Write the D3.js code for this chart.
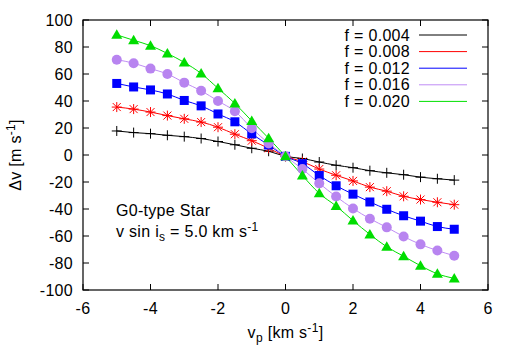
<!DOCTYPE html>
<html>
<head>
<meta charset="utf-8">
<script src="https://cdn.jsdelivr.net/npm/d3@7"></script>
<style>
  body { margin: 0; background: #fff; }
  text { font-family: "Liberation Sans", Arial, sans-serif; font-size: 16px; fill: #000; letter-spacing: 0.3px; }
</style>
</head>
<body>
<div id="chart"></div>
<script>
// x positions of the computed points
const vp = [-5, -4.5, -4, -3.5, -3, -2.5, -2, -1.5, -1, -0.5, 0, 0.5, 1, 1.5, 2, 2.5, 3, 3.5, 4, 4.5, 5];

const f004 = [17.8, 16.6, 15.8, 14.6, 13.6, 12.2, 10.0, 7.6, 5.0, 2.8, -1, -2.6, -5.2, -7.6, -9.4, -11.6, -13.2, -14.6, -16.4, -17.6, -18.6];
const f008 = [35.5, 34.0, 31.8, 29.2, 26.8, 24.4, 20.6, 15.4, 10.6, 5.0, -1, -4.9, -10.4, -15.0, -19.2, -23.8, -26.8, -30.6, -33.0, -35.0, -36.8];
const f012 = [53.0, 50.4, 48.2, 45.2, 40.4, 36.4, 30.4, 24.6, 15.6, 7.4, -1, -6.4, -15.2, -22.8, -29.0, -34.8, -40.2, -45.0, -49.0, -53.0, -55.0];
const f016 = [70.6, 68.0, 64.0, 60.0, 53.6, 47.6, 40.0, 32.4, 19.8, 8.6, -1, -10.4, -21.0, -30.8, -39.6, -47.2, -53.6, -60.4, -66.2, -70.8, -74.6];
const f020 = [89.0, 85.0, 81.0, 75.2, 68.6, 60.4, 49.4, 38.2, 25.2, 12.4, -1, -15.2, -28.4, -37.8, -48.6, -58.8, -68.0, -75.0, -82.0, -88.0, -91.4];

const seriesNames = ["f = 0.004", "f = 0.008", "f = 0.012", "f = 0.016", "f = 0.020"];
const seriesValues = [f004, f008, f012, f016, f020];
const lineColors = ["#000000", "#ff0000", "#0000ff", "#bf8cf5", "#00e000"];
const markColors = ["#000000", "#ff0000", "#0000ff", "#b884f0", "#00dd00"];
const markShapes = ["plus", "star", "square", "circle", "triangle"];

const xTicks = [-6, -4, -2, 0, 2, 4, 6];
const yTicks = [-100, -80, -60, -40, -20, 0, 20, 40, 60, 80, 100];

const W = 518, H = 362;
const margin = {top: 20, right: 30, bottom: 72, left: 83};

const svg = d3.select("#chart").append("svg")
    .attr("width", W).attr("height", H);

const x = d3.scaleLinear().domain([-6, 6]).range([margin.left, W - margin.right]);
const y = d3.scaleLinear().domain([-100, 100]).range([H - margin.bottom, margin.top]);

const tick = 6;

// Frame
svg.append("rect")
    .attr("x", x(-6)).attr("y", y(100))
    .attr("width", x(6) - x(-6)).attr("height", y(-100) - y(100))
    .attr("fill", "none").attr("stroke", "#000").attr("stroke-width", 1.2);

// Inward ticks on all four sides
const ticksG = svg.append("g").attr("stroke", "#000").attr("stroke-width", 1);
xTicks.forEach(t => {
    ticksG.append("line").attr("x1", x(t)).attr("x2", x(t)).attr("y1", y(-100)).attr("y2", y(-100) - tick);
    ticksG.append("line").attr("x1", x(t)).attr("x2", x(t)).attr("y1", y(100)).attr("y2", y(100) + tick);
});
yTicks.forEach(t => {
    ticksG.append("line").attr("x1", x(-6)).attr("x2", x(-6) + tick).attr("y1", y(t)).attr("y2", y(t));
    ticksG.append("line").attr("x1", x(6)).attr("x2", x(6) - tick).attr("y1", y(t)).attr("y2", y(t));
});

// Tick labels
svg.selectAll(".xlab").data(xTicks).join("text")
    .attr("x", d => x(d)).attr("y", y(-100) + 24)
    .attr("text-anchor", "middle").text(d => d);
svg.selectAll(".ylab").data(yTicks).join("text")
    .attr("x", x(-6) - 10).attr("y", d => y(d) + 5.5)
    .attr("text-anchor", "end").text(d => d);

// Axis titles
const xt = svg.append("text").attr("x", x(0)).attr("y", 338).attr("text-anchor", "middle");
xt.append("tspan").text("v");
xt.append("tspan").attr("dy", 4).attr("font-size", 12).text("p");
xt.append("tspan").attr("dy", -4).text(" [km s");
xt.append("tspan").attr("dy", -6).attr("font-size", 12).text("-1");
xt.append("tspan").attr("dy", 6).text("]");

const yt = svg.append("text")
    .attr("transform", `translate(21,${y(0)}) rotate(-90)`)
    .attr("text-anchor", "middle");
yt.append("tspan").text("\u0394v [m s");
yt.append("tspan").attr("dy", -6).attr("font-size", 12).text("-1");
yt.append("tspan").attr("dy", 6).text("]");

// Annotation
svg.append("text").attr("x", 116).attr("y", 216).text("G0-type Star");
const ann = svg.append("text").attr("x", 116).attr("y", 237);
ann.append("tspan").text("v sin i");
ann.append("tspan").attr("dy", 4).attr("font-size", 12).text("s");
ann.append("tspan").attr("dy", -4).text(" = 5.0 km s");
ann.append("tspan").attr("dy", -6).attr("font-size", 12).text("-1");

// Curves
const line = d3.line()
    .x((d, i) => x(vp[i]))
    .y(d => y(d))
    .curve(d3.curveMonotoneX);

seriesValues.forEach((vals, k) => {
    svg.append("path").datum(vals)
        .attr("d", line)
        .attr("fill", "none")
        .attr("stroke", lineColors[k])
        .attr("stroke-width", 1);
});

// Markers
function drawMark(g, shape, cx, cy, color) {
    if (shape === "plus") {
        g.append("path").attr("d", `M${cx - 5},${cy}H${cx + 5}M${cx},${cy - 5}V${cy + 5}`)
            .attr("stroke", color).attr("stroke-width", 1).attr("fill", "none");
    } else if (shape === "star") {
        g.append("path").attr("d",
            `M${cx - 5},${cy}H${cx + 5}M${cx},${cy - 5}V${cy + 5}` +
            `M${cx - 4},${cy - 4}L${cx + 4},${cy + 4}M${cx - 4},${cy + 4}L${cx + 4},${cy - 4}`)
            .attr("stroke", color).attr("stroke-width", 1).attr("fill", "none");
    } else if (shape === "square") {
        g.append("rect").attr("x", cx - 4.5).attr("y", cy - 4.5)
            .attr("width", 9).attr("height", 9).attr("fill", color);
    } else if (shape === "circle") {
        g.append("circle").attr("cx", cx).attr("cy", cy).attr("r", 5).attr("fill", color);
    } else if (shape === "triangle") {
        g.append("path").attr("d", `M${cx},${cy - 5.5}L${cx + 5.5},${cy + 4}L${cx - 5.5},${cy + 4}Z`)
            .attr("fill", color);
    }
}

seriesValues.forEach((vals, k) => {
    const g = svg.append("g");
    vals.forEach((v, i) => drawMark(g, markShapes[k], x(vp[i]), y(v), markColors[k]));
});

// Legend
const legend = svg.append("g");
seriesNames.forEach((name, k) => {
    const ly = 35 + k * 16.6;
    legend.append("text").attr("x", 410).attr("y", ly + 5.5)
        .attr("text-anchor", "end").text(name);
    legend.append("line")
        .attr("x1", 419).attr("x2", 467).attr("y1", ly).attr("y2", ly)
        .attr("stroke", lineColors[k]).attr("stroke-width", 1);
});
</script>
</body>
</html>
